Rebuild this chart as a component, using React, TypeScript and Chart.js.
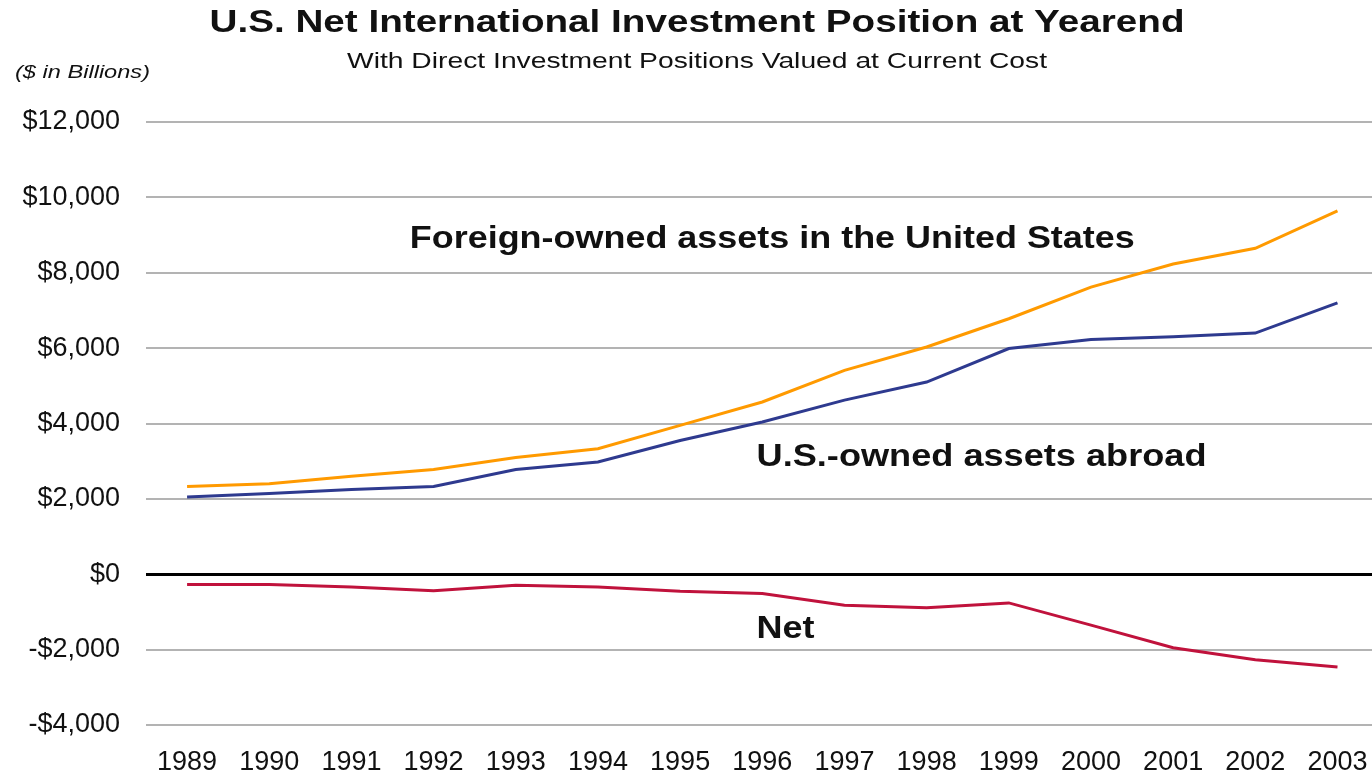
import React, { useEffect, useRef } from "react";
import { Chart, registerables } from "chart.js";

Chart.register(...registerables);

const years = [1989, 1990, 1991, 1992, 1993, 1994, 1995, 1996, 1997, 1998, 1999, 2000, 2001, 2002, 2003];
const foreignOwned = [2330, 2400, 2600, 2780, 3100, 3330, 3950, 4570, 5410, 6030, 6780, 7620, 8230, 8650, 9640];
const usOwned = [2050, 2140, 2250, 2330, 2780, 2980, 3550, 4040, 4620, 5100, 5990, 6230, 6300, 6400, 7200];
const netPosition = [-270, -270, -340, -440, -290, -340, -450, -510, -820, -890, -760, -1350, -1950, -2270, -2460];
const yTicks = [-4000, -2000, 0, 2000, 4000, 6000, 8000, 10000, 12000];

const titleText = "U.S. Net International Investment Position at Yearend";
const subtitleText = "With Direct Investment Positions Valued at Current Cost";
const unitText = "($ in Billions)";
const seriesLabels = ["Foreign-owned assets in the United States", "U.S.-owned assets abroad", "Net"];

const FONT = '"Liberation Sans", Arial, Helvetica, sans-serif';

function fitText(ctx: CanvasRenderingContext2D, text: string, x: number, y: number, font: string, width: number, align: "left" | "center") {
  ctx.save();
  ctx.font = font;
  ctx.textBaseline = "middle";
  ctx.textAlign = "left";
  const w = ctx.measureText(text).width;
  const s = width / w;
  const left = align === "center" ? x - width / 2 : x;
  ctx.translate(left, y);
  ctx.scale(s, 1);
  ctx.fillStyle = "#111";
  ctx.fillText(text, 0, 0);
  ctx.restore();
}

const textPlugin = {
  id: "texts",
  afterDraw(chart: any) {
    const ctx = chart.ctx as CanvasRenderingContext2D;
    fitText(ctx, titleText, 697, 23, `bold 32px ${FONT}`, 975, "center");
    fitText(ctx, subtitleText, 697, 62, `22px ${FONT}`, 700, "center");
    fitText(ctx, unitText, 15, 73, `italic 18px ${FONT}`, 135, "left");
    const xs = chart.scales.x;
    const ys = chart.scales.y;
    const anchors = [
      { year: 1991.71, value: 8890, width: 725 },
      { year: 1995.93, value: 3100, width: 450 },
      { year: 1995.93, value: -1460, width: 58 },
    ];
    anchors.forEach((a, i) => {
      fitText(ctx, seriesLabels[i], xs.getPixelForValue(a.year), ys.getPixelForValue(a.value), `bold 32px ${FONT}`, a.width, "left");
    });
  },
};

export default function App() {
  const ref = useRef<HTMLCanvasElement>(null);
  useEffect(() => {
    document.body.style.margin = "0";
    const toPts = (arr: number[]) => arr.map((v, i) => ({ x: years[i], y: v }));
    const chart = new Chart(ref.current as HTMLCanvasElement, {
      type: "line",
      data: {
        datasets: [
          { label: seriesLabels[0], data: toPts(foreignOwned), borderColor: "#FF9A00", borderWidth: 3, pointRadius: 0, tension: 0 },
          { label: seriesLabels[1], data: toPts(usOwned), borderColor: "#2E3A8F", borderWidth: 3, pointRadius: 0, tension: 0 },
          { label: seriesLabels[2], data: toPts(netPosition), borderColor: "#C0123C", borderWidth: 3, pointRadius: 0, tension: 0 },
        ],
      },
      options: {
        animation: false,
        responsive: false,
        devicePixelRatio: 1,
        layout: { padding: { top: 122, left: 0, right: 0, bottom: 0 } },
        plugins: { legend: { display: false }, tooltip: { enabled: false }, title: { display: false } },
        scales: {
          x: {
            type: "linear",
            min: 1988.5,
            max: 2003.42,
            afterBuildTicks: (s: any) => {
              s.ticks = years.map((v) => ({ value: v }));
            },
            afterFit: (s: any) => {
              s.height = 50;
              s.paddingLeft = 0;
              s.paddingRight = 0;
            },
            grid: { display: false, drawTicks: false },
            border: { display: false },
            ticks: {
              autoSkip: false,
              maxRotation: 0,
              padding: 21,
              color: "#111",
              font: { family: FONT, size: 27 },
              callback: (v: any) => String(v),
            },
          },
          y: {
            min: -4000,
            max: 12000,
            afterBuildTicks: (s: any) => {
              s.ticks = yTicks.map((v) => ({ value: v }));
            },
            afterFit: (s: any) => {
              s.width = 146;
            },
            grid: {
              drawTicks: false,
              color: (c: any) => (c.tick && c.tick.value === 0 ? "#000" : "#b3b3b3"),
              lineWidth: (c: any) => (c.tick && c.tick.value === 0 ? 3 : 2),
            },
            border: { display: false },
            ticks: {
              padding: 26,
              color: "#111",
              font: { family: FONT, size: 27 },
              callback: (v: any) => (v < 0 ? "-" : "") + "$" + Math.abs(v).toLocaleString("en-US"),
            },
          },
        },
      },
      plugins: [textPlugin],
    });
    return () => chart.destroy();
  }, []);
  return (
    <div style={{ position: "absolute", left: 0, top: 0, width: 1372, height: 775, background: "#fff" }}>
      <canvas ref={ref} width={1372} height={775} />
    </div>
  );
}
